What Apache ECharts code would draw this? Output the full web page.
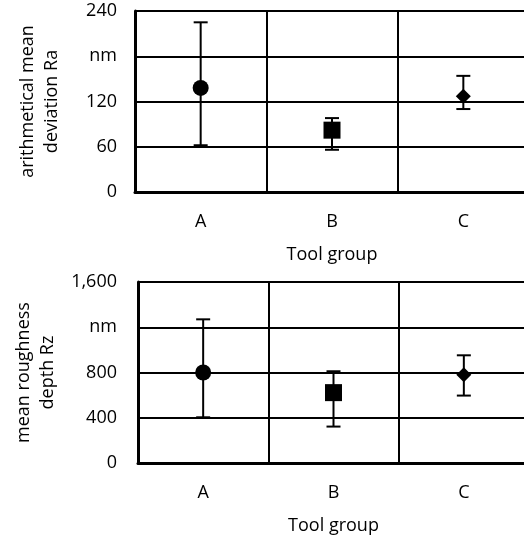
<!DOCTYPE html>
<html><head><meta charset="utf-8">
<script src="https://cdn.jsdelivr.net/npm/echarts@6/dist/echarts.min.js"></script>
<style>html,body{margin:0;padding:0;background:#fff}#c{width:524px;height:536px}</style>
</head><body><div id="c"></div>
<script>
const categories = ['A', 'B', 'C'];
const raMean = [138, 82, 127];
const raLow = [62, 56, 110];
const raHigh = [225, 98, 154];
const rzMean = [800, 622, 781];
const rzLow = [404, 322, 596];
const rzHigh = [1270, 811, 952];
const raTickLabels = ['0', '60', '120', 'nm', '240'];
const rzTickLabels = ['0', '400', '800', 'nm', '1,600'];
const symbols = ['circle', 'rect', 'diamond'];
const symbolSizes = [16, 17, [15, 15]];

const FONT = 'Open Sans';
const chart = echarts.init(document.getElementById('c'), null, {renderer: 'canvas'});

function xAxisCfg(gridIndex, labelMargin, nameGap) {
  return {
    type: 'category', gridIndex, data: categories, boundaryGap: true,
    axisLine: {show: true, lineStyle: {color: '#000', width: 3}},
    axisTick: {show: false},
    axisLabel: {color: '#000', fontFamily: FONT, fontSize: 18, margin: labelMargin},
    splitLine: {show: true, interval: 0, lineStyle: {color: '#000', width: 2}},
    name: 'Tool group', nameLocation: 'middle', nameGap,
    nameTextStyle: {color: '#000', fontFamily: FONT, fontSize: 18}
  };
}
function yAxisCfg(gridIndex, max, interval, labels, name, labelMargin, nameGap) {
  return {
    type: 'value', gridIndex, min: 0, max, interval,
    axisLine: {show: true, onZero: false, lineStyle: {color: '#000', width: 3}},
    axisTick: {show: false},
    axisLabel: {color: '#000', fontFamily: FONT, fontSize: 18, margin: labelMargin,
      formatter: v => labels[Math.round(v / interval)]},
    splitLine: {show: true, lineStyle: {color: '#000', width: 2}},
    name, nameLocation: 'middle', nameRotate: 90, nameGap,
    nameTextStyle: {color: '#000', fontFamily: FONT, fontSize: 18, lineHeight: 24, align: 'center'}
  };
}
function errSeries(idx, low, high) {
  return {
    type: 'custom', xAxisIndex: idx, yAxisIndex: idx, z: 3,
    data: categories.map((c, i) => [i, low[i], high[i]]),
    renderItem: (params, api) => {
      const lo = api.coord([api.value(0), api.value(1)]);
      const hi = api.coord([api.value(0), api.value(2)]);
      const hw = 7;
      const st = {stroke: '#000', lineWidth: 2};
      return {type: 'group', children: [
        {type: 'line', shape: {x1: lo[0], y1: lo[1], x2: hi[0], y2: hi[1]}, style: st},
        {type: 'line', shape: {x1: lo[0] - hw, y1: lo[1], x2: lo[0] + hw, y2: lo[1]}, style: st},
        {type: 'line', shape: {x1: hi[0] - hw, y1: hi[1], x2: hi[0] + hw, y2: hi[1]}, style: st}
      ]};
    }
  };
}
function markSeries(idx, mean) {
  return {
    type: 'scatter', xAxisIndex: idx, yAxisIndex: idx, z: 4,
    data: categories.map((c, i) => ({value: [i, mean[i]], symbol: symbols[i], symbolSize: symbolSizes[i]})),
    itemStyle: {color: '#000', opacity: 1}
  };
}

chart.setOption({
  animation: false,
  grid: [
    {left: 135, top: 11, width: 394, height: 181, outerBoundsMode: 'none', containLabel: false},
    {left: 138, top: 282, width: 391, height: 181, outerBoundsMode: 'none', containLabel: false}
  ],
  xAxis: [xAxisCfg(0, 21, 54), xAxisCfg(1, 21, 54)],
  yAxis: [
    yAxisCfg(0, 240, 60, raTickLabels, 'arithmetical mean\ndeviation Ra', 18, 71),
    yAxisCfg(1, 1600, 400, rzTickLabels, 'mean roughness\ndepth Rz', 21, 74)
  ],
  series: [
    errSeries(0, raLow, raHigh), markSeries(0, raMean),
    errSeries(1, rzLow, rzHigh), markSeries(1, rzMean)
  ]
});
</script></body></html>
